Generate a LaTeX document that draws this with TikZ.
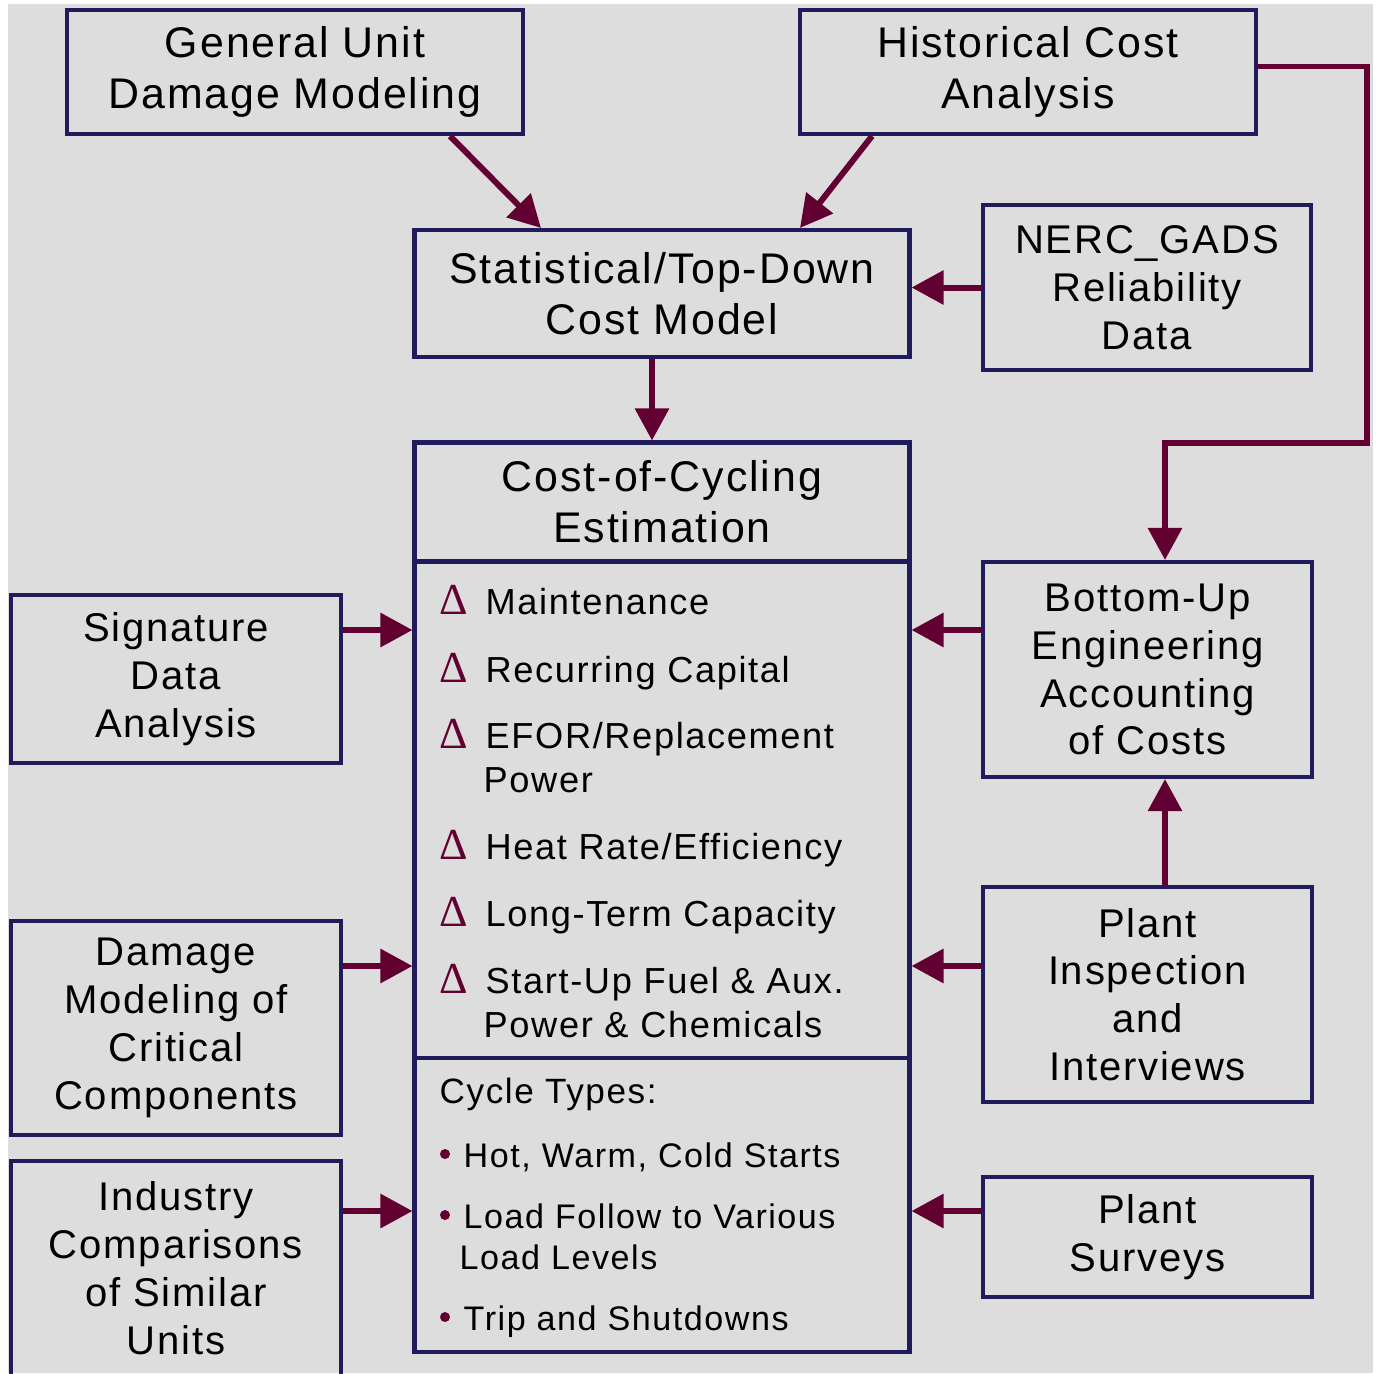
\documentclass[tikz,border=0pt]{standalone}
\usepackage{fontspec}
\setmainfont{Liberation Sans}[LetterSpace=4.5]
\newfontfamily\deltafont{Liberation Serif}
\usetikzlibrary{arrows.meta}
\definecolor{navy}{RGB}{32,28,92}
\definecolor{wine}{RGB}{98,0,50}
\definecolor{paper}{RGB}{221,221,221}

\begin{document}
\begin{tikzpicture}[line join=miter, >={Triangle[length=3.2mm,width=3.3mm]},
		box/.style={draw=navy, line width=1.15pt, inner sep=0pt, align=center},
		titlefont/.style={font=\fontsize{12.2}{14.5}\selectfont},
		sidefont/.style={font=\fontsize{11.4}{13.6}\selectfont},
		flow/.style={draw=wine, line width=1.7pt, ->},
		item/.style={anchor=base west, inner sep=0pt, font=\fontsize{10.3}{12}\selectfont},
		kind/.style={anchor=base west, inner sep=0pt, font=\fontsize{9.7}{12}\selectfont}]
			\useasboundingbox (0,0) rectangle (13.77,-13.73);
			\clip (0,0) rectangle (13.77,-13.73);
			\fill[paper] (0.08,-0.04) rectangle (13.73,-13.73);
			% Khung
			\node[box, titlefont, minimum width=4.56cm, minimum height=1.24cm] (gen) at (2.95,-0.72) {General Unit\\Damage Modeling};
			\node[box, titlefont, minimum width=4.56cm, minimum height=1.24cm] (hist) at (10.28,-0.72) {Historical Cost\\Analysis};
			\node[box, titlefont, minimum width=4.95cm, minimum height=1.27cm] (stat) at (6.62,-2.935) {Statistical/Top-Down\\Cost Model};
			\node[box, sidefont, minimum width=3.28cm, minimum height=1.65cm] (nerc) at (11.47,-2.875) {NERC\_GADS\\Reliability\\Data};
			\node[box, titlefont, minimum width=4.95cm, minimum height=1.19cm] (head) at (6.62,-5.02) {Cost-of-Cycling\\Estimation};
			\node[box, minimum width=4.95cm, minimum height=4.96cm] (costs) at (6.62,-8.095) {};
			\node[box, minimum width=4.95cm, minimum height=2.945cm] (types) at (6.62,-12.0475) {};
			\node[box, sidefont, minimum width=3.30cm, minimum height=1.675cm] (sig) at (1.76,-6.79) {Signature\\Data\\Analysis};
			\node[box, sidefont, minimum width=3.30cm, minimum height=2.145cm] (dmg) at (1.76,-10.28) {Damage\\Modeling of\\Critical\\Components};
			\node[box, sidefont, minimum width=3.30cm, minimum height=2.15cm] (ind) at (1.76,-12.68) {Industry\\Comparisons\\of Similar\\Units};
			\node[box, sidefont, minimum width=3.29cm, minimum height=2.15cm] (bot) at (11.475,-6.695) {Bottom-Up\\Engineering\\Accounting\\of Costs};
			\node[box, sidefont, minimum width=3.29cm, minimum height=2.15cm] (insp) at (11.475,-9.945) {Plant\\Inspection\\and\\Interviews};
			\node[box, sidefont, minimum width=3.29cm, minimum height=1.195cm] (surv) at (11.475,-12.37) {Plant\\Surveys};
			% Chi phi
			\foreach \y [count=\i] in {6.14,6.82,7.48,8.59,9.26,9.93}
				\node[item, text=wine, font=\fontsize{12.6}{12}\deltafont] (d\i) at (4.39,-\y) {Δ};
			\node[item] (m1) at (4.85,-6.14) {Maintenance};
			\node[item] (m2) at (4.85,-6.82) {Recurring Capital};
			\node[item] (m3) at (4.85,-7.48) {EFOR/Replacement};
			\node[item] (m3b) at (4.83,-7.92) {Power};
			\node[item] (m4) at (4.85,-8.59) {Heat Rate/Efficiency};
			\node[item] (m5) at (4.85,-9.26) {Long-Term Capacity};
			\node[item] (m6) at (4.85,-9.93) {Start-Up Fuel \& Aux.};
			\node[item] (m6b) at (4.83,-10.37) {Power \& Chemicals};
			% Loai chu ky
			\node[kind, font=\fontsize{10}{12}\selectfont] (ct) at (4.39,-11.03) {Cycle Types:};
			\node[kind] (k1) at (4.63,-11.67) {Hot, Warm, Cold Starts};
			\node[kind] (k2) at (4.63,-12.28) {Load Follow to Various};
			\node[kind] (k2b) at (4.59,-12.69) {Load Levels};
			\node[kind] (k3) at (4.63,-13.30) {Trip and Shutdowns};
			\fill[wine] (4.45,-11.54) circle (0.05);
			\fill[wine] (4.45,-12.15) circle (0.05);
			\fill[wine] (4.45,-13.17) circle (0.05);
			% Mui ten
			\coordinate (r1) at (0,-6.30);
			\coordinate (r2) at (0,-9.66);
			\coordinate (r3) at (0,-12.11);
			\coordinate (cv) at (11.65,0);
			\coordinate (turn) at (13.67,-4.43);
			\draw[flow] ([xshift=1.55cm]gen.south) -- ([xshift=-1.21cm]stat.north);
			\draw[flow] ([xshift=-1.56cm]hist.south) -- ([xshift=1.38cm]stat.north);
			\draw[flow] ([xshift=-1mm]stat.south) -- ([xshift=-1mm]head.north);
			\draw[flow] (nerc.west) -- (nerc.west -| stat.east);
			\draw[flow] ([yshift=0.55mm]hist.east) -| (turn) -| (cv |- bot.north);
			\draw[flow] (insp.north -| cv) -- (bot.south -| cv);
			\draw[flow] (sig.east |- r1) -- (costs.west |- r1);
			\draw[flow] (bot.west |- r1) -- (costs.east |- r1);
			\draw[flow] (dmg.east |- r2) -- (costs.west |- r2);
			\draw[flow] (insp.west |- r2) -- (costs.east |- r2);
			\draw[flow] (ind.east |- r3) -- (types.west |- r3);
			\draw[flow] (surv.west |- r3) -- (types.east |- r3);
		\end{tikzpicture}
\end{document}
